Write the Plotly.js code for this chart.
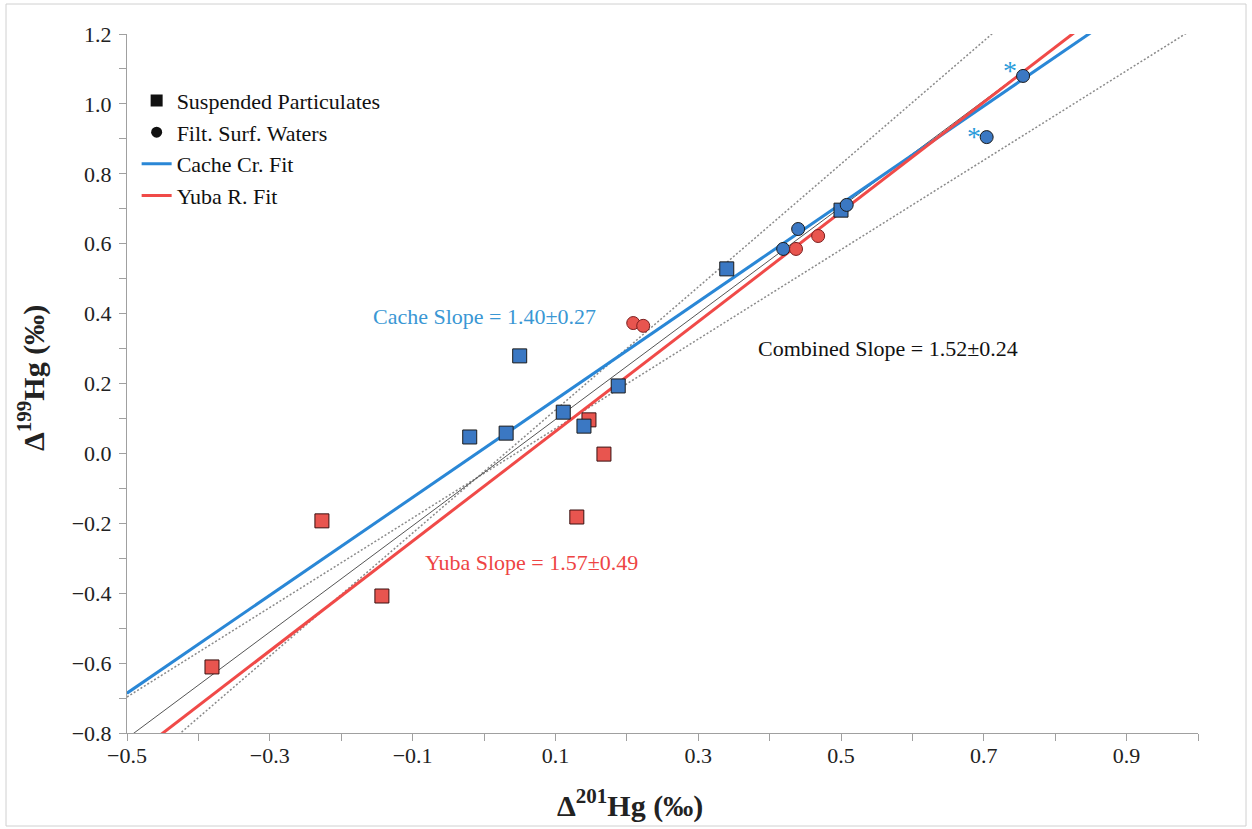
<!DOCTYPE html>
<html>
<head>
<meta charset="utf-8">
<script src="https://cdn.plot.ly/plotly-3.0.1.min.js"></script>
<style>html,body{margin:0;padding:0;background:#fff;}#chart{width:1252px;height:829px;}</style>
</head>
<body>
<div id="chart"></div>
<script>
// ---- Data ----
// Cache Creek – suspended particulates (squares)
const cacheSPx = [-0.020, 0.031, 0.050, 0.111, 0.140, 0.188, 0.340, 0.500];
const cacheSPy = [0.047, 0.058, 0.279, 0.118, 0.078, 0.193, 0.528, 0.696];
// Cache Creek – filtered surface waters (circles)
const cacheFWx = [0.419, 0.440, 0.508, 0.704, 0.755];
const cacheFWy = [0.585, 0.642, 0.711, 0.905, 1.080];
// Yuba River – suspended particulates (squares)
const yubaSPx = [-0.381, -0.227, -0.143, 0.130, 0.147, 0.168];
const yubaSPy = [-0.611, -0.193, -0.408, -0.182, 0.096, -0.002];
// Yuba River – filtered surface waters (circles)
const yubaFWx = [0.209, 0.223, 0.437, 0.468];
const yubaFWy = [0.373, 0.365, 0.585, 0.622];
// Flagged (*) points
const starX = [0.755, 0.704];
const starY = [1.080, 0.905];
// Regression lines: Cache fit, Yuba fit, combined fit, combined slope +err, combined slope -err
const fitNames = ['Cache Cr. Fit', 'Yuba R. Fit', 'Combined', 'Combined upper', 'Combined lower'];
const fitSlope = [1.40, 1.57, 1.52, 1.76, 1.28];
const fitIntercept = [0.014, -0.094, -0.055, -0.052, -0.057];
const xRange = [-0.5, 1.0];
const yRange = [-0.8, 1.2];
// Slope labels
const slopeLabels = ['Cache Slope = 1.40±0.27', 'Yuba Slope = 1.57±0.49', 'Combined Slope = 1.52±0.24'];
const slopeLabelX = [0.000, 0.066, 0.566];
const slopeLabelY = [0.392, -0.311, 0.301];
// Axis titles
const xTitle = '<b>Δ<sup>201</sup>Hg (‰)</b>';
const yTitle = '<b>Δ<sup>199</sup>Hg (‰)</b>';

// ---- Styles ----
const FONT = 'Liberation Serif, Times New Roman, serif';
const BLUE_LINE = '#2A87D6';
const RED_LINE = '#F04A48';
const BLUE_MK = '#3B78C3';
const RED_MK = '#E8554F';
const lineStyles = [
  {color: BLUE_LINE, width: 3},
  {color: RED_LINE, width: 3},
  {color: '#555555', width: 1},
  {color: '#8a8a8a', width: 1.5, dash: '2px,2px'},
  {color: '#8a8a8a', width: 1.5, dash: '2px,2px'}
];

function fitLine(i) {
  return {
    x: xRange.slice(),
    y: xRange.map(v => fitSlope[i] * v + fitIntercept[i]),
    mode: 'lines', type: 'scatter', name: fitNames[i],
    line: lineStyles[i], hoverinfo: 'skip'
  };
}

const traces = [];
// Legend-only marker entries
traces.push({x: [null], y: [null], mode: 'markers', type: 'scatter', name: 'Suspended Particulates',
  marker: {symbol: 'square', size: 12, color: '#111'}, legendgroup: 'g1', showlegend: true});
traces.push({x: [null], y: [null], mode: 'markers', type: 'scatter', name: 'Filt. Surf. Waters',
  marker: {symbol: 'circle', size: 11, color: '#111'}, legendgroup: 'g2', showlegend: true});
// Confidence / combined lines
[3, 4, 2].forEach(i => { const t = fitLine(i); t.showlegend = false; traces.push(t); });
// Fit lines with legend
const tc = fitLine(0); tc.showlegend = true; tc.legendgroup = 'g3'; traces.push(tc);
const ty = fitLine(1); ty.showlegend = true; ty.legendgroup = 'g4'; traces.push(ty);
// Data markers
const mkLine = {color: '#1b1b1b', width: 1};
traces.push({x: yubaSPx, y: yubaSPy, mode: 'markers', type: 'scatter', showlegend: false,
  marker: {symbol: 'square', size: 14, color: RED_MK, line: {color: '#3a1010', width: 1}}});
traces.push({x: cacheSPx, y: cacheSPy, mode: 'markers', type: 'scatter', showlegend: false,
  marker: {symbol: 'square', size: 14, color: BLUE_MK, line: mkLine}});
traces.push({x: cacheFWx, y: cacheFWy, mode: 'markers', type: 'scatter', showlegend: false,
  marker: {symbol: 'circle', size: 13, color: BLUE_MK, line: mkLine}});
traces.push({x: yubaFWx, y: yubaFWy, mode: 'markers', type: 'scatter', showlegend: false,
  marker: {symbol: 'circle', size: 13, color: RED_MK, line: {color: '#7a1e1e', width: 1}}});

const labelColors = ['#3A97D4', '#EE4444', '#111111'];
const annotations = slopeLabels.map((t, i) => ({
  x: slopeLabelX[i], y: slopeLabelY[i], xref: 'x', yref: 'y', text: t, showarrow: false,
  xanchor: 'center', yanchor: 'middle', font: {family: FONT, size: 22, color: labelColors[i]}
}));
starX.forEach((x, i) => annotations.push({
  x: x, y: starY[i], xref: 'x', yref: 'y', text: '*', showarrow: false,
  xshift: -13, yshift: i === 0 ? 5 : 1, font: {family: FONT, size: 28, color: '#2A9BDA'}
}));
// Axis titles placed as annotations for exact position
annotations.push({
  xref: 'paper', yref: 'paper', x: (630 - 127) / 1071, y: (733 - 803) / 699,
  text: xTitle, showarrow: false, xanchor: 'center', yanchor: 'middle',
  font: {family: FONT, size: 30, color: '#222'}
});
annotations.push({
  xref: 'paper', yref: 'paper', x: (31 - 127) / 1071, y: (733 - 378) / 699,
  text: yTitle, showarrow: false, xanchor: 'center', yanchor: 'middle', textangle: -90,
  font: {family: FONT, size: 30, color: '#222'}
});

const axisCommon = {
  showgrid: false, zeroline: false, showline: true, linecolor: '#a0a0a0', linewidth: 1,
  ticks: 'outside', ticklen: 7, tickcolor: '#a0a0a0', tickwidth: 1,
  tickfont: {family: FONT, size: 22, color: '#222'},
  minor: {ticks: 'outside', ticklen: 7, tickcolor: '#a0a0a0', tickwidth: 1, dtick: 0.1}
};

const layout = {
  width: 1252, height: 829,
  margin: {l: 127, r: 54, t: 34, b: 96},
  paper_bgcolor: '#ffffff', plot_bgcolor: '#ffffff',
  font: {family: FONT, color: '#222'},
  xaxis: Object.assign({}, axisCommon, {
    range: xRange, tick0: -0.5, dtick: 0.2, tickformat: '.1f', ticklabelstandoff: -4
  }),
  yaxis: Object.assign({}, axisCommon, {
    range: yRange, tick0: -0.8, dtick: 0.2, tickformat: '.1f', ticklabelstandoff: 3
  }),
  showlegend: true,
  legend: {
    x: 0.009, y: 0.9345, xanchor: 'left', yanchor: 'top',
    bgcolor: 'rgba(255,255,255,0)', borderwidth: 0,
    font: {family: FONT, size: 22, color: '#111'},
    tracegroupgap: 6, traceorder: 'normal', itemwidth: 30
  },
  annotations: annotations,
  shapes: [{
    type: 'rect', xref: 'paper', yref: 'paper',
    x0: (6 - 127) / 1071, x1: (1246 - 127) / 1071,
    y0: (733 - 826) / 699, y1: (733 - 4) / 699,
    line: {color: '#d0d0d0', width: 1}, fillcolor: 'rgba(0,0,0,0)', layer: 'below'
  }]
};

Plotly.newPlot('chart', traces, layout, {staticPlot: true, displayModeBar: false});
</script>
</body>
</html>
